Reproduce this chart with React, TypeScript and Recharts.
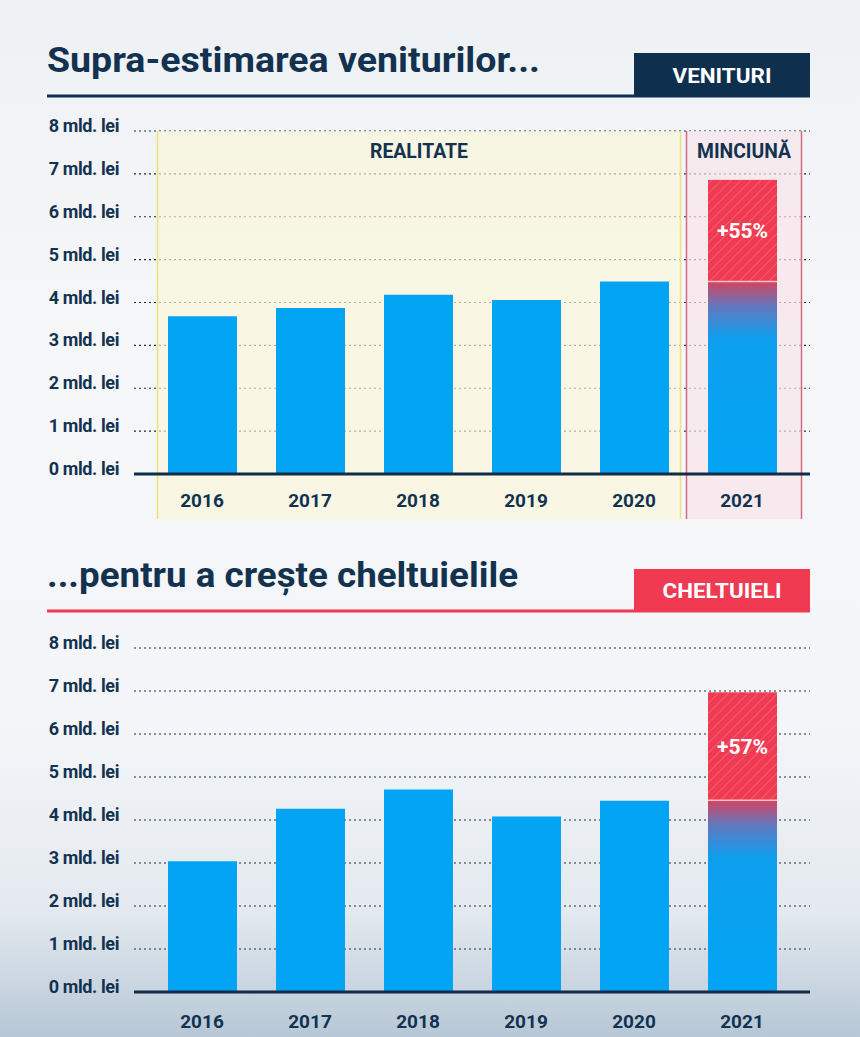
import React from "react";
import {
  BarChart,
  Bar,
  XAxis,
  YAxis,
  CartesianGrid,
  Cell,
  LabelList,
  ReferenceArea,
} from "recharts";

// values in mld. lei
const years = ["2016", "2017", "2018", "2019", "2020", "2021"];
const venituri = [3.68, 3.87, 4.18, 4.06, 4.49, 4.49];
const venituriPlus = [0, 0, 0, 0, 0, 2.37];
const venituriPlusLabel = "+55%";
const cheltuieli = [3.04, 4.26, 4.71, 4.08, 4.45, 4.46];
const cheltuieliPlus = [0, 0, 0, 0, 0, 2.51];
const cheltuieliPlusLabel = "+57%";
const yTicks = [0, 1, 2, 3, 4, 5, 6, 7, 8];

const NAVY = "#123250";
const BLUE = "#03a4f4";
const RED = "#ef3a52";
const FONT = "Roboto, 'Noto Sans', sans-serif";

const venituriData = years.map((year, i) => ({
  year,
  base: venituri[i],
  plus: venituriPlus[i] || null,
}));
const cheltuieliData = years.map((year, i) => ({
  year,
  base: cheltuieli[i],
  plus: cheltuieliPlus[i] || null,
}));

const YTick = ({ x, y, payload }: any) => (
  <text
    x={x}
    y={y + 1}
    textAnchor="end"
    fill={NAVY}
    fontSize={18}
    fontWeight={700}
    fontFamily={FONT}
    letterSpacing={-0.4}
  >
    {payload.value} mld. lei
  </text>
);

const XTick = ({ x, y, payload }: any) => (
  <text x={x} y={y + 13} textAnchor="middle" fill={NAVY} fontSize={19} fontWeight={700} fontFamily={FONT}>
    {payload.value}
  </text>
);

// shaded zone behind bars, inset from the category bands
const Band = (props: any) => {
  const { x, y, width, height, insetL, insetR, fill, border, title, titleLen } = props;
  const x0 = x + insetL;
  const x1 = x + width - insetR;
  return (
    <g>
      <rect x={x0} y={y} width={x1 - x0} height={height} fill={fill} />
      <line x1={x0} x2={x0} y1={y} y2={y + height} stroke={border} strokeWidth={1.5} />
      <line x1={x1} x2={x1} y1={y} y2={y + height} stroke={border} strokeWidth={1.5} />
      <text
        x={(x0 + x1) / 2}
        y={y + 27}
        textAnchor="middle"
        fill={NAVY}
        fontSize={20}
        fontWeight={700}
        fontFamily={FONT}
        textLength={titleLen}
        lengthAdjust="spacingAndGlyphs"
      >
        {title}
      </text>
    </g>
  );
};

const PlusShape = (props: any) => {
  const { x, y, width, height } = props;
  if (!height) return null;
  return (
    <g>
      <rect x={x} y={y} width={width} height={height} fill={RED} />
      <rect x={x} y={y} width={width} height={height} fill="url(#hatch)" />
      <line x1={x} x2={x + width} y1={y + height} y2={y + height} stroke="rgba(255,220,225,0.8)" strokeWidth={1.5} />
    </g>
  );
};

const Defs = () => (
  <defs>
    <linearGradient id="lieGrad" x1="0" y1="0" x2="0" y2="1">
      <stop offset="0" stopColor="#d4445f" />
      <stop offset="0.13" stopColor="#6278bf" />
      <stop offset="0.3" stopColor="#0d9fee" />
      <stop offset="1" stopColor={BLUE} />
    </linearGradient>
    <pattern id="hatch" width="7" height="7" patternUnits="userSpaceOnUse" patternTransform="rotate(45)">
      <line x1="0" y1="0" x2="0" y2="7" stroke="rgba(255,255,255,0.35)" strokeWidth="1" />
    </pattern>
  </defs>
);

function Chart({ data, label, top, height, marginTop, axisHeight, tickGap, bands }: any) {
  return (
    <div style={{ position: "absolute", left: 0, top }}>
      <BarChart
        width={860}
        height={height}
        data={data}
        margin={{ top: marginTop, right: 50, bottom: 0, left: 0 }}
      >
        <Defs />
        <CartesianGrid vertical={false} stroke="#1c2e44" strokeDasharray="2 3" strokeWidth={1.2} />
        {bands && (
          <ReferenceArea
            x1="2016"
            x2="2020"
            y1={-1.05}
            y2={8}
            ifOverflow="visible"
            shape={(p: any) => (
              <Band
                {...p}
                insetL={9.5}
                insetR={7.5}
                fill="rgba(250,248,215,0.65)"
                border="#ece37f"
                title="REALITATE"
                titleLen={98}
              />
            )}
          />
        )}
        {bands && (
          <ReferenceArea
            x1="2021"
            x2="2021"
            y1={-1.05}
            y2={8}
            ifOverflow="visible"
            shape={(p: any) => (
              <Band
                {...p}
                insetL={-1.5}
                insetR={-5.5}
                fill="rgba(248,228,234,0.7)"
                border="#d26a82"
                title="MINCIUNĂ"
                titleLen={94}
              />
            )}
          />
        )}
        <XAxis
          dataKey="year"
          height={axisHeight}
          padding={{ left: 14, right: 14 }}
          axisLine={{ stroke: "#0f2c48", strokeWidth: 3 }}
          tickLine={false}
          tickMargin={tickGap}
          tick={<XTick />}
        />
        <YAxis
          width={134}
          domain={[0, 8]}
          ticks={yTicks}
          axisLine={false}
          tickLine={false}
          tickMargin={9}
          tick={<YTick />}
        />
        <Bar dataKey="base" stackId="a" barSize={69} isAnimationActive={false}>
          {data.map((d: any, i: number) => (
            <Cell key={i} fill={d.plus ? "url(#lieGrad)" : BLUE} />
          ))}
        </Bar>
        <Bar dataKey="plus" stackId="a" barSize={69} shape={<PlusShape />} isAnimationActive={false}>
          <LabelList
            dataKey="plus"
            position="center"
            formatter={(v: any) => (v ? label : "")}
            fill="#ffffff"
            fontSize={21}
            fontWeight={700}
            fontFamily={FONT}
          />
        </Bar>
      </BarChart>
    </div>
  );
}

function Heading({ title, titleLen, baseline, boxTop, boxBottom, color, tag, tagLen }: any) {
  return (
    <g>
      <text
        x={47}
        y={baseline}
        fill={NAVY}
        fontSize={35}
        fontWeight={700}
        fontFamily={FONT}
        textLength={titleLen}
        lengthAdjust="spacingAndGlyphs"
      >
        {title}
      </text>
      <rect x={47} y={boxBottom - 2.5} width={763} height={3} fill={color} />
      <rect x={634} y={boxTop} width={176} height={boxBottom - boxTop} fill={color} />
      <text
        x={722}
        y={(boxTop + boxBottom) / 2 + 7.5}
        textAnchor="middle"
        fill="#ffffff"
        fontSize={21}
        fontWeight={700}
        fontFamily={FONT}
        textLength={tagLen}
        lengthAdjust="spacingAndGlyphs"
      >
        {tag}
      </text>
    </g>
  );
}

export default function App() {
  return (
    <div
      style={{
        position: "absolute",
        left: 0,
        top: 0,
        width: 860,
        height: 1037,
        overflow: "hidden",
        background:
          "linear-gradient(180deg, #eef1f4 0%, #f6f7f9 35%, #f3f5f8 70%, #e3e9ef 88%, #b7c7d6 100%)",
      }}
    >
      <svg width={860} height={1037} style={{ position: "absolute", left: 0, top: 0 }}>
        <Heading
          title="Supra-estimarea veniturilor..."
          titleLen={493}
          baseline={72}
          boxTop={53}
          boxBottom={97}
          color="#0e2f4d"
          tag="VENITURI"
          tagLen={99}
        />
        <Heading
          title="...pentru a crește cheltuielile"
          titleLen={471}
          baseline={587}
          boxTop={569}
          boxBottom={612}
          color={RED}
          tag="CHELTUIELI"
          tagLen={119}
        />
      </svg>
      <Chart
        data={venituriData}
        label={venituriPlusLabel}
        top={0}
        height={540}
        marginTop={131}
        axisHeight={66}
        tickGap={14}
        bands
      />
      <Chart
        data={cheltuieliData}
        label={cheltuieliPlusLabel}
        top={520}
        height={517}
        marginTop={128}
        axisHeight={45}
        tickGap={17}
      />
    </div>
  );
}
